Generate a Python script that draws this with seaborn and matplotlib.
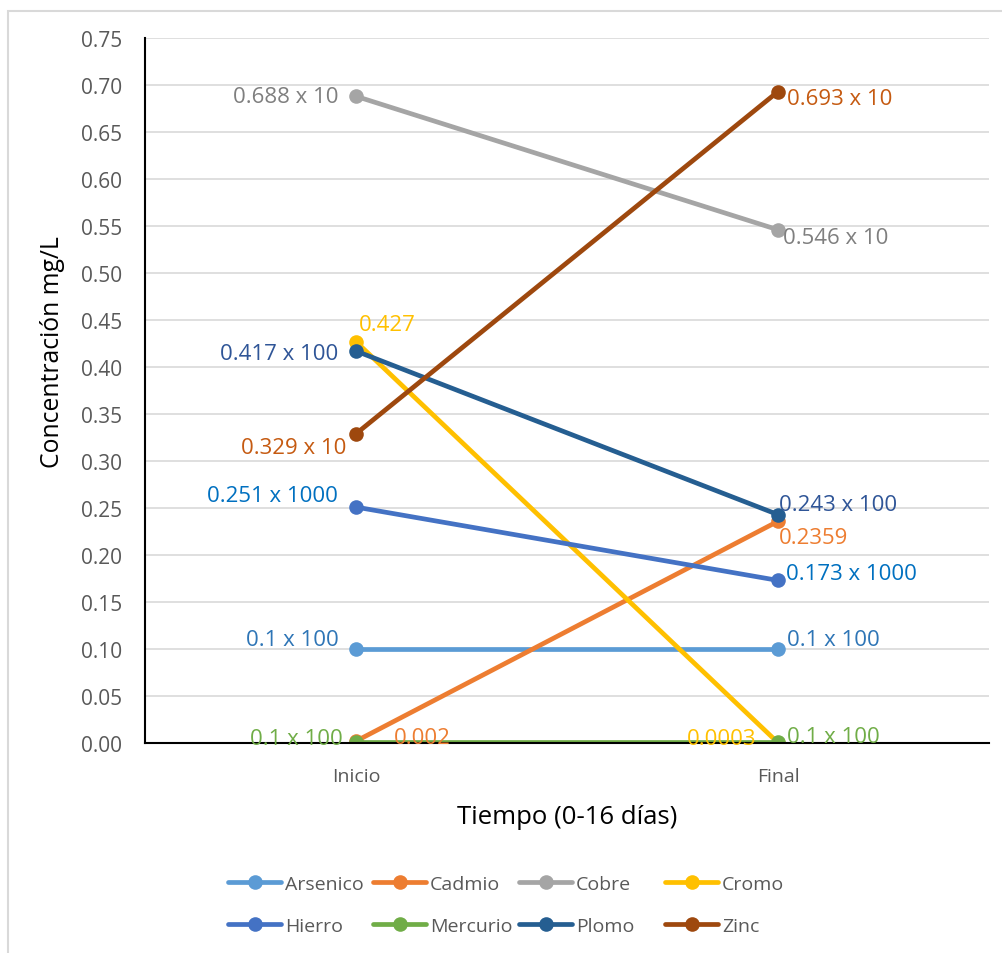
import matplotlib
matplotlib.use("Agg")
import matplotlib.pyplot as plt
from matplotlib.patches import Rectangle
import seaborn as sns
import pandas as pd

# Sampling times
tiempos = ["Inicio", "Final"]

# Metals and their concentrations (mg/L) at each time
metales = ["Arsenico", "Cadmio", "Cobre", "Cromo", "Hierro", "Mercurio", "Plomo", "Zinc"]
arsenico = [0.100, 0.100]
cadmio = [0.002, 0.2359]
cobre = [0.688, 0.546]
cromo = [0.427, 0.0003]
hierro = [0.251, 0.173]
mercurio = [0.001, 0.001]
plomo = [0.417, 0.243]
zinc = [0.329, 0.693]

# Data labels shown next to each point
etiquetas = {
    "Arsenico": ["0.1 x 100", "0.1 x 100"],
    "Cadmio": ["0.002", "0.2359"],
    "Cobre": ["0.688 x 10", "0.546 x 10"],
    "Cromo": ["0.427", "0.0003"],
    "Hierro": ["0.251 x 1000", "0.173 x 1000"],
    "Mercurio": ["0.1 x 100", "0.1 x 100"],
    "Plomo": ["0.417 x 100", "0.243 x 100"],
    "Zinc": ["0.329 x 10", "0.693 x 10"],
}

valores = [arsenico, cadmio, cobre, cromo, hierro, mercurio, plomo, zinc]

colores = {
    "Arsenico": "#5B9BD5",
    "Cadmio": "#ED7D31",
    "Cobre": "#A5A5A5",
    "Cromo": "#FFC000",
    "Hierro": "#4472C4",
    "Mercurio": "#70AD47",
    "Plomo": "#255E91",
    "Zinc": "#9E480E",
}
colores_etiqueta = {
    "Arsenico": "#2E75B6",
    "Cadmio": "#ED7D31",
    "Cobre": "#7F7F7F",
    "Cromo": "#FFC000",
    "Hierro": "#0070C0",
    "Mercurio": "#70AD47",
    "Plomo": "#2F5597",
    "Zinc": "#C55A11",
}

filas = []
for m, vals in zip(metales, valores):
    for t, v in zip(tiempos, vals):
        filas.append({"Tiempo": t, "Valor": v, "Metal": m})
df = pd.DataFrame(filas)

sns.set_theme(style="white")
plt.rcParams["font.family"] = ["Open Sans", "DejaVu Sans"]

fig = plt.figure(figsize=(10.02, 9.54), dpi=100)
ax = fig.add_axes([0.1447, 0.2201, 0.8423, 0.7390])

sns.lineplot(data=df, x="Tiempo", y="Valor", hue="Metal", hue_order=metales,
             palette=colores, marker="o", markersize=10.5, markeredgewidth=0,
             linewidth=3.4, sort=False, ax=ax, legend=True)

ax.set_xlim(-0.5, 1.5)
ax.set_ylim(0, 0.75)
ax.set_yticks([i * 0.05 for i in range(16)])
ax.yaxis.set_major_formatter(matplotlib.ticker.FormatStrFormatter("%.2f"))
ax.grid(axis="y", color="#D9D9D9", linewidth=1.2)
ax.set_axisbelow(True)
for s in ["top", "right"]:
    ax.spines[s].set_visible(False)
ax.spines["left"].set_color("black")
ax.spines["left"].set_linewidth(1.5)
ax.spines["bottom"].set_color("black")
ax.spines["bottom"].set_linewidth(1.5)
ax.tick_params(axis="both", length=0, colors="#595959")
ax.tick_params(axis="y", pad=16.5, labelsize=15)
ax.tick_params(axis="x", pad=17, labelsize=14)

ax.set_ylabel("Concentración mg/L", fontsize=17.8, color="black")
ax.yaxis.label.set_va("center")
ax.yaxis.set_label_coords(-0.110, 0.556)
ax.set_xlabel("Tiempo (0-16 días)", fontsize=18.5, color="black", labelpad=14)

# Label offsets in pixels (dx, dy, ha) for each point
px = 0.72
offsets = {
    "Arsenico": [(-17, 10, "right"), (9, 10, "left")],
    "Cadmio": [(38, 4, "left"), (1, -16, "left")],
    "Cobre": [(-17, 0, "right"), (5, -8, "left")],
    "Cromo": [(3, 17, "left"), (-22, 4, "right")],
    "Hierro": [(-18, 12, "right"), (8, 7, "left")],
    "Mercurio": [(-13, 4, "right"), (9, 6, "left")],
    "Plomo": [(-18, -2, "right"), (1, 10, "left")],
    "Zinc": [(-10, -14, "right"), (9, -7, "left")],
}
for m, vals in zip(metales, valores):
    for i, v in enumerate(vals):
        dx, dy, ha = offsets[m][i]
        ax.annotate(etiquetas[m][i], xy=(i, v), xytext=(dx * px, dy * px),
                    textcoords="offset points", ha=ha, va="center",
                    fontsize=16, color=colores_etiqueta[m])

handles, labels = ax.get_legend_handles_labels()
ax.get_legend().remove()
for h in handles:
    h.set_linewidth(3.4)
    h.set_markersize(10.5)

# Legend laid out as four equal-width columns, two rows
col_x = [228, 373, 519, 665]
for c, x in enumerate(col_x):
    idx = [c, c + 4]
    fig.legend([handles[i] for i in idx], [labels[i] for i in idx],
               loc="center left", bbox_to_anchor=(x / 1002, 0.0505),
               bbox_transform=fig.transFigure, frameon=False, fontsize=14,
               handlelength=2.73, handletextpad=0.2, borderpad=0,
               borderaxespad=0, labelspacing=1.25, labelcolor="#595959")

fig.patches.append(Rectangle((0.008, -0.02), 1.1, 0.9874 + 0.02,
                             transform=fig.transFigure, fill=False,
                             edgecolor="#D9D9D9", linewidth=1.5))

fig.savefig("out.png", dpi=100, facecolor="white")
